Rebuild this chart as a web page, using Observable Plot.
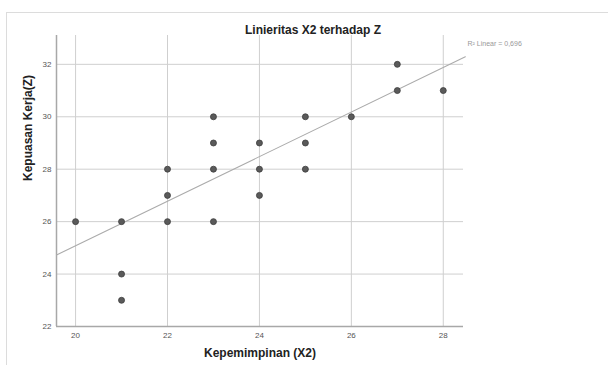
<!DOCTYPE html>
<html>
<head>
<meta charset="utf-8">
<script src="https://cdn.jsdelivr.net/npm/d3@7"></script>
<script src="https://cdn.jsdelivr.net/npm/@observablehq/plot@0.6"></script>
<style>
  html, body { margin: 0; padding: 0; background: #fff; }
  #wrap { position: relative; width: 608px; height: 365px; overflow: hidden; font-family: "Liberation Sans", Arial, sans-serif; }
  #border { position: absolute; left: 6px; top: 12px; width: 640px; height: 400px; border: 1px solid #dcdcdc; box-sizing: border-box; pointer-events: none; }
  #wrap svg { position: absolute; left: 0; top: 0; }
</style>
</head>
<body>
<div id="wrap"><div id="border"></div></div>
<script>
const title = "Linieritas X2 terhadap Z";
const xLabel = "Kepemimpinan (X2)";
const yLabel = "Kepuasan Kerja(Z)";
const fitLabel = "R² Linear = 0,696";
const xTicks = [20, 22, 24, 26, 28];
const yTicks = [22, 24, 26, 28, 30, 32];
const xValues = [20, 21, 21, 21, 22, 22, 22, 23, 23, 23, 23, 24, 24, 24, 25, 25, 25, 26, 27, 27, 28];
const yValues = [26, 26, 24, 23, 28, 27, 26, 30, 29, 28, 26, 29, 28, 27, 30, 29, 28, 30, 32, 31, 31];
const fitIntercept = 8.08;
const fitSlope = 0.85;
const xDomain = [19.585, 28.44];
const yDomain = [22, 33.1];
const fitRange = [19.585, 28.48];

const points = xValues.map((x, i) => ({x, y: yValues[i]}));
const fitLine = fitRange.map(x => ({x, y: fitIntercept + fitSlope * x}));

const chart = Plot.plot({
  width: 608,
  height: 365,
  marginLeft: 56,
  marginRight: 145,
  marginTop: 35,
  marginBottom: 39,
  style: {fontFamily: "'Liberation Sans', Arial, sans-serif", background: "transparent", overflow: "visible"},
  x: {domain: xDomain},
  y: {domain: yDomain},
  marks: [
    Plot.gridX(xTicks, {stroke: "#cfcfcf", strokeOpacity: 1, strokeWidth: 1}),
    Plot.gridY(yTicks, {stroke: "#cfcfcf", strokeOpacity: 1, strokeWidth: 1}),
    Plot.ruleX([xDomain[0]], {stroke: "#a8a8a8", strokeWidth: 1.5}),
    Plot.ruleY([yDomain[0]], {stroke: "#a8a8a8", strokeWidth: 1.5}),
    Plot.axisX(xTicks, {tickSize: 0, tickPadding: 6, fontSize: 8, fill: "#555", label: null}),
    Plot.axisY(yTicks, {tickSize: 0, tickPadding: 5, fontSize: 8, fill: "#555", label: null}),
    Plot.line(fitLine, {x: "x", y: "y", stroke: "#ababab", strokeWidth: 1.1}),
    Plot.dot(points, {x: "x", y: "y", r: 3, fill: "#5a5a5a", stroke: "#3c3c3c", strokeWidth: 0.8}),
    Plot.text([title], {text: d => d, frameAnchor: "top", dx: 53, dy: -10, fontSize: 12, fontWeight: "bold", fill: "#222"}),
    Plot.text([xLabel], {text: d => d, frameAnchor: "bottom", dy: 30, fontSize: 12, fontWeight: "bold", fill: "#222"}),
    Plot.text([yLabel], {text: d => d, frameAnchor: "left", dx: -28, rotate: -90, fontSize: 12, fontWeight: "bold", fill: "#222"}),
    Plot.text([fitLabel], {text: d => d, frameAnchor: "top-right", dx: 4, dy: 6, textAnchor: "start", fontSize: 7, fill: "#999"})
  ]
});
document.getElementById("wrap").appendChild(chart);
</script>
</body>
</html>
